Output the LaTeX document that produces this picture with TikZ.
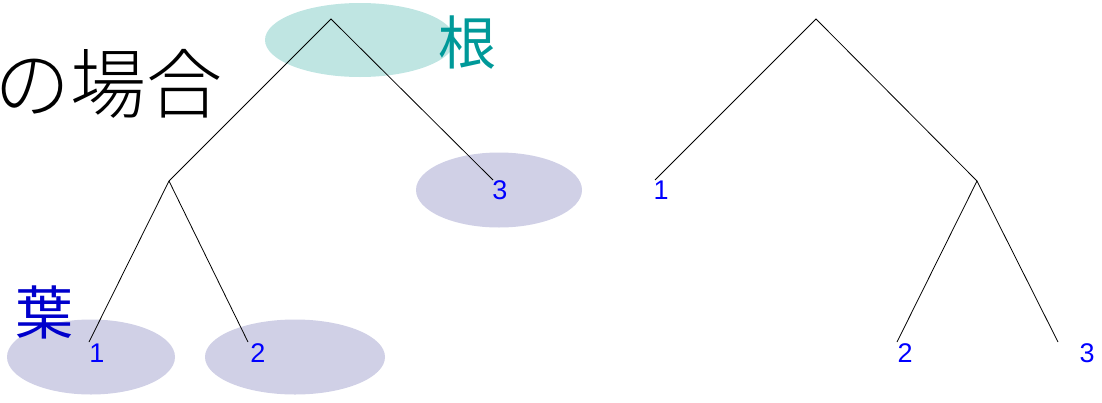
\documentclass[tikz,border=0pt]{standalone}
\usepackage{fontspec}
\setmainfont{Liberation Sans}
\newfontfamily\jp{Noto Sans CJK JP}
\newfontfamily\jplight{Noto Sans CJK JP Light}
\usetikzlibrary{shapes.geometric}
\definecolor{leafbg}{HTML}{D0D0E6}
\definecolor{rootbg}{HTML}{BFE5E2}
\definecolor{rootfg}{HTML}{009999}
\definecolor{numblue}{HTML}{0000FF}
\definecolor{leafblue}{HTML}{0000CC}
\tikzset{
  blob/.style={ellipse, inner sep=0pt, draw=none},
  edge/.style={draw=black, line width=0.8pt},
  num/.style={text=numblue, font=\fontsize{27}{27}\selectfont, inner sep=0pt},
  bigjp/.style={font=\jp\fontsize{58}{58}\selectfont, inner sep=0pt}
}
\begin{document}
\begin{tikzpicture}[x=1pt,y=-1pt]
\useasboundingbox (0,0) rectangle (1102,402);
\begin{scope}
\clip (0,0) rectangle (1102,402);
% highlight ellipses
\node[blob, fill=rootbg, minimum width=190pt, minimum height=74pt] (eroot) at (360,40) {};
\node[blob, fill=leafbg, minimum width=166pt, minimum height=75pt] (ethree) at (499,190) {};
\node[blob, fill=leafbg, minimum width=168pt, minimum height=75pt] (eone) at (91,357) {};
\node[blob, fill=leafbg, minimum width=180pt, minimum height=75pt] (etwo) at (295,357) {};
% title fragment
\node[font=\jplight\fontsize{76}{76}\selectfont, inner sep=0pt, anchor=west] (title) at (-6,84) {の場合};
% left tree
\coordinate (LR) at (331,19);
\coordinate (LA) at (169,181);
\coordinate (L3) at (493,180);
\coordinate (L1) at (89,342);
\coordinate (L2) at (248,342);
\draw[edge] (L3) -- (LR) -- (LA) -- (L1);
\draw[edge] (LA) -- (L2);
% right tree
\coordinate (RR) at (816,19);
\coordinate (R1) at (655,180);
\coordinate (RA) at (977,181);
\coordinate (R2) at (897,342);
\coordinate (R3) at (1058,342);
\draw[edge] (R1) -- (RR) -- (RA) -- (R2);
\draw[edge] (RA) -- (R3);
% labels
\node[num] (n3) at (500,190) {3};
\node[num] (n1) at (97,353) {1};
\node[num] (n2) at (258,353) {2};
\node[num] (m1) at (661,190) {1};
\node[num] (m2) at (905,353) {2};
\node[num] (m3) at (1087,353) {3};
\node[bigjp, text=rootfg] (ne) at (467,43) {根};
\node[bigjp, text=leafblue] (ha) at (45,312) {葉};
\end{scope}
\end{tikzpicture}
\end{document}
